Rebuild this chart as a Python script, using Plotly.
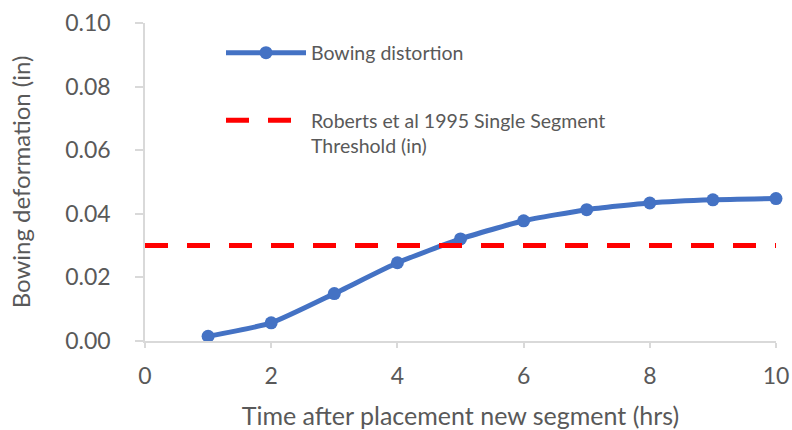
import plotly.graph_objects as go

hours = [1, 2, 3, 4, 5, 6, 7, 8, 9, 10]
bowing = [0.0015, 0.0057, 0.0149, 0.0246, 0.0321, 0.0378, 0.0413, 0.0434, 0.0444, 0.0448]
threshold_x = [0, 10]
threshold_y = [0.03, 0.03]

FONT = "Lato"
GREY = "#595959"
AX = "#D9D9D9"
W, H = 792, 430
ML, MR, MT, MB = 145, 16, 23, 89
PW, PH = W - ML - MR, H - MT - MB

fig = go.Figure()
fig.add_trace(go.Scatter(
    x=hours, y=bowing, mode="lines+markers", name="Bowing distortion",
    line=dict(color="#4472C4", width=5, shape="spline", smoothing=0.5),
    marker=dict(color="#4472C4", size=13), cliponaxis=False,
    showlegend=True, legend="legend"))
fig.add_trace(go.Scatter(
    x=threshold_x, y=threshold_y, mode="lines",
    name="Roberts et al 1995 Single Segment<br>Threshold (in)",
    line=dict(color="#FF0000", width=5, dash="23px,19px"), cliponaxis=False,
    showlegend=True, legend="legend2"))

fig.update_layout(
    width=W, height=H,
    margin=dict(l=ML, r=MR, t=MT, b=MB, autoexpand=False),
    paper_bgcolor="white", plot_bgcolor="white",
    showlegend=True,
    font=dict(family=FONT, color=GREY),
    legend=dict(x=(221 - ML) / PW, y=(H - MB - 53) / PH, xref="paper", yref="paper",
                xanchor="left", yanchor="middle", bgcolor="rgba(0,0,0,0)",
                font=dict(size=19.5, color=GREY), itemwidth=80),
    legend2=dict(x=(221 - ML) / PW, y=(H - MB - 101) / PH, xref="paper", yref="paper",
                 xanchor="left", yanchor="top", valign="top", bgcolor="rgba(0,0,0,0)",
                 font=dict(size=19.5, color=GREY), itemwidth=80),
    xaxis=dict(range=[0, 10], tickvals=[0, 2, 4, 6, 8, 10], showgrid=False, zeroline=False,
               automargin=False,
               showline=True, linecolor=AX, linewidth=1.5, ticks="outside", ticklen=5,
               tickcolor=AX, tickwidth=1.5, tickfont=dict(size=23, color=GREY),
               ticklabelstandoff=9,
               title=dict(text="Time after placement new segment (hrs)", font=dict(size=25, color=GREY), standoff=22)),
    yaxis=dict(range=[0, 0.1], tickvals=[0, 0.02, 0.04, 0.06, 0.08, 0.10], tickformat=".2f",
               showgrid=False, zeroline=False, automargin=False,
               showline=True, linecolor=AX, linewidth=1.5, ticks="outside", ticklen=8,
               tickcolor=AX, tickwidth=1.5, tickfont=dict(size=23, color=GREY),
               ticklabelstandoff=20,
               title=dict(text="Bowing deformation (in)", font=dict(size=24, color=GREY), standoff=28)),
)
fig.write_html("out.html", config={"displayModeBar": False},
               post_script="document.body.style.margin='0';document.body.style.overflow='hidden';")
